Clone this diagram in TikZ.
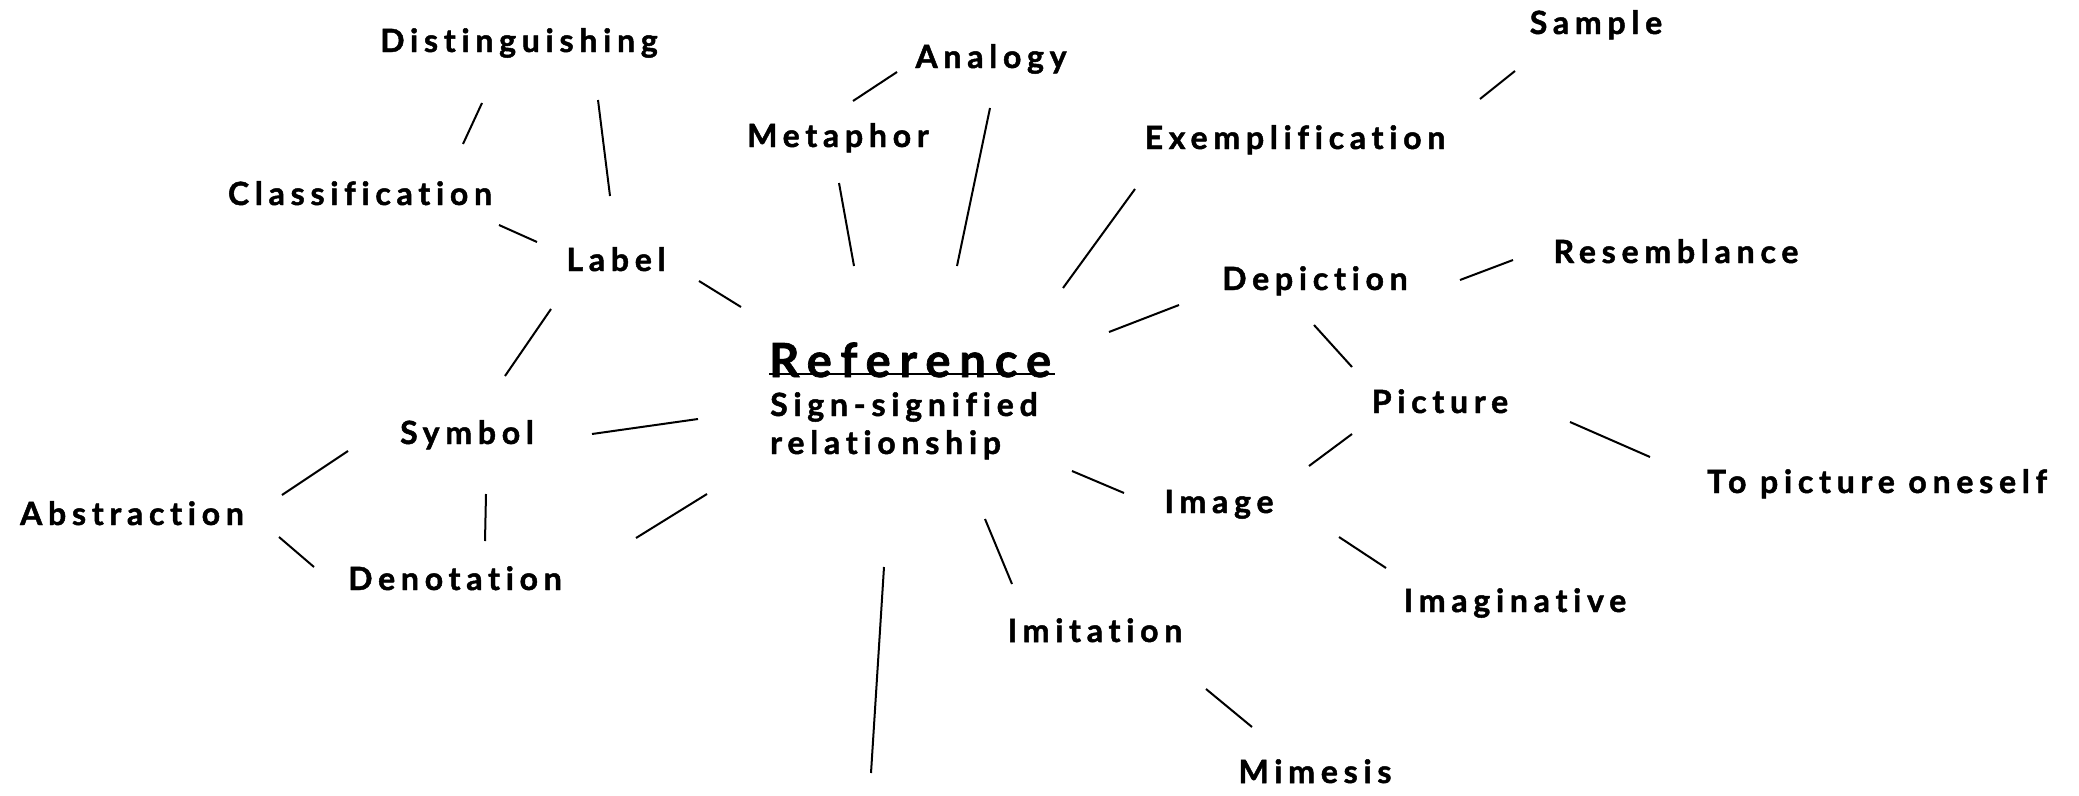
\documentclass[tikz,border=0pt]{standalone}
\usepackage{fontspec}
\newfontfamily\labfont{Lato}[LetterSpace=18, Ligatures=NoCommon, BoldFeatures={FakeBold=1.5}]
\newfontfamily\titfont{Lato}[LetterSpace=19, Ligatures=NoCommon, BoldFeatures={FakeBold=1.5}]
\tikzset{
  word/.style={font=\labfont\bfseries\fontsize{32}{38}\selectfont, inner sep=0pt, anchor=base},
  title/.style={font=\titfont\bfseries\fontsize{47}{56}\selectfont, inner sep=0pt, anchor=base west},
  sub/.style={font=\labfont\bfseries\fontsize{32}{38}\selectfont, inner sep=0pt, anchor=base west},
  seg/.style={line width=2pt}
}
\begin{document}
\begin{tikzpicture}[x=1pt,y=-1pt]
\useasboundingbox (0,0) rectangle (2079,795);
% nodes
\node[word] (dis) at (519,52) {Distinguishing};
\node[word] (ana) at (991,68) {Analogy};
\node[word] (sam) at (1596,34) {Sample};
\node[word] (met) at (838,147) {Metaphor};
\node[word] (exe) at (1295,149) {Exemplification};
\node[word] (cls) at (360,205) {Classification};
\node[word] (lbl) at (616,271) {Label};
\node[word] (dep) at (1315,290) {Depiction};
\node[word] (res) at (1676,263) {Resemblance};
\node[word] (pic) at (1440,413) {Picture};
\node[word] (sym) at (467,444) {Symbol};
\node[word] (tpo) at (1877,493) {To picture oneself};
\node[word] (abs) at (132,525) {Abstraction};
\node[word] (img) at (1219,513) {Image};
\node[word] (den) at (455,590) {Denotation};
\node[word] (imv) at (1515,612) {Imaginative};
\node[word] (imt) at (1095,642) {Imitation};
\node[word] (mim) at (1315,783) {Mimesis};
\node[title] (ref) at (769,377) {Reference};
\node[sub] (sub1) at (770,416) {Sign-signified};
\node[sub] (sub2) at (770,454) {relationship};
\coordinate (free) at (871,773);
% underline
\draw[line width=2.5pt] ([yshift=3]ref.base west) -- ([xshift=4,yshift=3]ref.base east);
% connectors
\draw[seg] ([shift={(103,-61)}]cls.base) -- ([shift={(-37,51)}]dis.base);
\draw[seg] ([shift={(79,48)}]dis.base) -- ([shift={(-6,-75)}]lbl.base);
\draw[seg] ([shift={(139,20)}]cls.base) -- ([shift={(-79,-29)}]lbl.base);
\draw[seg] ([shift={(83,10)}]lbl.base) -- ([shift={(-28,-70)}]ref.base west);
\draw[seg] ([shift={(-65,38)}]lbl.base) -- ([shift={(38,-68)}]sym.base);
\draw[seg] ([shift={(15,-46)}]met.base) -- ([shift={(-94,4)}]ana.base);
\draw[seg] ([shift={(1,36)}]met.base) -- ([shift={(85,-111)}]ref.base west);
\draw[seg] ([shift={(-1,40)}]ana.base) -- ([shift={(188,-111)}]ref.base west);
\draw[seg] ([shift={(185,-50)}]exe.base) -- ([shift={(-81,37)}]sam.base);
\draw[seg] ([shift={(-160,40)}]exe.base) -- ([shift={(294,-89)}]ref.base west);
\draw[seg] ([shift={(145,-10)}]dep.base) -- ([shift={(-163,-3)}]res.base);
\draw[seg] ([shift={(-136,15)}]dep.base) -- ([shift={(340,-45)}]ref.base west);
\draw[seg] ([shift={(-1,35)}]dep.base) -- ([shift={(-88,-46)}]pic.base);
\draw[seg] ([shift={(-88,21)}]pic.base) -- ([shift={(90,-47)}]img.base);
\draw[seg] ([shift={(130,9)}]pic.base) -- ([shift={(-227,-36)}]tpo.base);
\draw[seg] ([shift={(303,94)}]ref.base west) -- ([shift={(-95,-20)}]img.base);
\draw[seg] ([shift={(120,24)}]img.base) -- ([shift={(-129,-44)}]imv.base);
\draw[seg] ([shift={(216,142)}]ref.base west) -- ([shift={(-83,-58)}]imt.base);
\draw[seg] ([shift={(111,47)}]imt.base) -- ([shift={(-63,-56)}]mim.base);
\draw[seg] ([shift={(115,190)}]ref.base west) -- (free);
\draw[seg] ([shift={(125,-10)}]sym.base) -- ([shift={(-71,42)}]ref.base west);
\draw[seg] ([shift={(-119,7)}]sym.base) -- ([shift={(150,-30)}]abs.base);
\draw[seg] ([shift={(147,12)}]abs.base) -- ([shift={(-141,-23)}]den.base);
\draw[seg] ([shift={(19,50)}]sym.base) -- ([shift={(30,-49)}]den.base);
\draw[seg] ([shift={(181,-52)}]den.base) -- ([shift={(-62,117)}]ref.base west);
\end{tikzpicture}
\end{document}
